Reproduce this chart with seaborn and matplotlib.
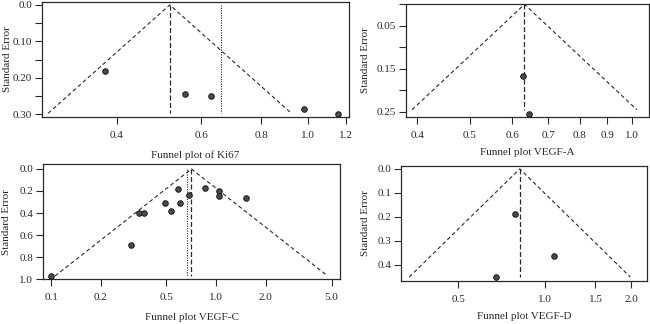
import matplotlib
matplotlib.use("Agg")
import matplotlib.pyplot as plt
import numpy as np
import pandas as pd
import seaborn as sns

# Ki67
ki67_or = [0.378, 0.554, 0.627, 0.982, 1.152]
ki67_se = [0.181, 0.245, 0.250, 0.286, 0.299]
ki67_pooled = 0.516
ki67_adjusted = 0.66
ki67_funnel_se = 0.297

# VEGF-A
vegfa_or = [0.629, 0.644]
vegfa_se = [0.167, 0.254]
vegfa_pooled = 0.632
vegfa_funnel_se = 0.245

# VEGF-C
vegfc_or = [0.100, 0.305, 0.343, 0.368, 0.488, 0.530, 0.585, 0.600, 0.688,
            0.853, 1.046, 1.040, 1.510]
vegfc_se = [0.970, 0.686, 0.398, 0.396, 0.306, 0.380, 0.185, 0.310, 0.233,
            0.170, 0.197, 0.245, 0.264]
vegfc_pooled = 0.708
vegfc_adjusted = 0.669
vegfc_funnel_se = 0.97

# VEGF-D
vegfd_or = [0.787, 1.080, 0.677]
vegfd_se = [0.189, 0.365, 0.451]
vegfd_pooled = 0.819
vegfd_funnel_se = 0.451

# tick values / labels
ki67_xticks = [0.4, 0.6, 0.8, 1.0, 1.2]
ki67_yticks = [0.0, 0.05, 0.10, 0.15, 0.20, 0.25, 0.30]
ki67_ylabels = ["0.0", "", "0.10", "", "0.20", "", "0.30"]
vegfa_xticks = [0.4, 0.5, 0.6, 0.7, 0.8, 0.9, 1.0]
vegfa_yticks = [0.0, 0.05, 0.10, 0.15, 0.20, 0.25]
vegfa_ylabels = ["", "0.05", "", "0.15", "", "0.25"]
vegfc_xticks = [0.1, 0.2, 0.5, 1.0, 2.0, 5.0]
vegfc_yticks = [0.0, 0.2, 0.4, 0.6, 0.8, 1.0]
vegfc_ylabels = ["0.0", "0.2", "0.4", "0.6", "0.8", "1.0"]
vegfd_xticks = [0.5, 1.0, 1.5, 2.0]
vegfd_yticks = [0.0, 0.1, 0.2, 0.3, 0.4]
vegfd_ylabels = ["0.0", "0.1", "0.2", "0.3", "0.4"]

sns.set_theme(style="ticks")
plt.rcParams['font.family'] = ['Liberation Serif', 'DejaVu Serif']
INK = "#2a2a2a"

fig = plt.figure(figsize=(6.5, 3.24), dpi=100)

panels = [
    # rect, or, se, pooled, adjusted, funnel_se, xlim, ylim, xticks, yticks, ylabels,
    # title, xlabel y (axes), ylabel x (axes)
    ([0.0646, 0.640, 0.472, 0.354], ki67_or, ki67_se, ki67_pooled, ki67_adjusted,
     ki67_funnel_se, (0.28, 1.215), (0.306, -0.008), ki67_xticks, ki67_yticks,
     ki67_ylabels, "Funnel plot of Ki67", -0.29, -0.098),
    ([0.6246, 0.640, 0.374, 0.348], vegfa_or, vegfa_se, vegfa_pooled, None,
     vegfa_funnel_se, (0.381, 1.076), (0.261, -0.001), vegfa_xticks, vegfa_yticks,
     vegfa_ylabels, "Funnel plot VEGF-A", -0.28, -0.15),
    ([0.0662, 0.138, 0.457, 0.356], vegfc_or, vegfc_se, vegfc_pooled, vegfc_adjusted,
     vegfc_funnel_se, (0.0894, 5.63), (1.0, -0.045), vegfc_xticks, vegfc_yticks,
     vegfc_ylabels, "Funnel plot VEGF-C", -0.295, -0.108),
    ([0.617, 0.133, 0.378, 0.355], vegfd_or, vegfd_se, vegfd_pooled, None,
     vegfd_funnel_se, (0.317, 2.26), (0.467, -0.0125), vegfd_xticks, vegfd_yticks,
     vegfd_ylabels, "Funnel plot VEGF-D", -0.27, -0.128),
]

for (rect, xs, ses, pooled, adjusted, fse, xlim, ylim, xt, yt, yl,
     title, xlab_y, ylab_x) in panels:
    ax = fig.add_axes(rect)
    ax.set_xscale("log")

    # funnel: pooled +/- 1.96*se
    se_line = np.array([fse, 0.0, fse])
    x_line = np.array([pooled * np.exp(-1.96 * fse), pooled, pooled * np.exp(1.96 * fse)])
    ax.plot(x_line, se_line, ls=(0, (3.5, 2.5)), lw=0.8, color=INK)
    ax.plot([pooled, pooled], [0, fse], ls=(0, (4, 2)), lw=0.9, color=INK)
    if adjusted is not None:
        ax.plot([adjusted, adjusted], [0, fse], ls=(0, (1, 1.2)), lw=0.8, color=INK)

    df = pd.DataFrame({"or": xs, "se": ses})
    sns.scatterplot(data=df, x="or", y="se", ax=ax, s=16, color="#4a4a4a",
                    edgecolor="#1a1a1a", linewidth=0.7, zorder=3)

    ax.set_xlim(*xlim)
    ax.set_ylim(*ylim)
    ax.set_xticks(xt)
    ax.set_xticklabels([f"{v:.1f}" for v in xt])
    ax.xaxis.set_minor_locator(matplotlib.ticker.NullLocator())
    ax.set_yticks(yt)
    ax.set_yticklabels(yl)
    ax.tick_params(axis="both", which="major", length=5, width=0.8, color=INK,
                   labelsize=8, labelcolor=INK)
    ax.tick_params(axis="x", pad=5)
    ax.tick_params(axis="y", pad=2)
    for sp in ax.spines.values():
        sp.set_color(INK)
        sp.set_linewidth(0.9)
    ax.set_xlabel(title, fontsize=8, color=INK)
    ax.set_ylabel("Standard Error", fontsize=8, color=INK)
    ax.xaxis.set_label_coords(0.5, xlab_y)
    ax.yaxis.set_label_coords(ylab_x, 0.5)

fig.savefig("out.png", dpi=100)
